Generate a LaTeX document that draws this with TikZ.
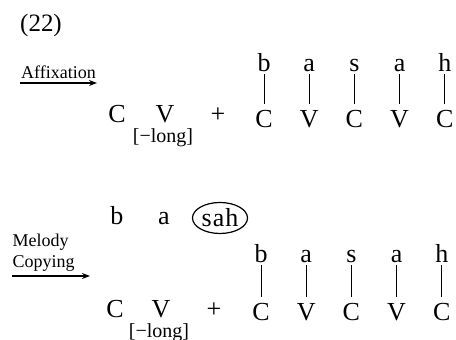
\documentclass[tikz,border=0pt]{standalone}
\usepackage{fontspec}
\setmainfont{Liberation Serif}
\usetikzlibrary{positioning,arrows.meta,shapes.geometric}

\begin{document}
\begin{tikzpicture}[x=0.5pt, y=-0.5pt, >={Stealth[length=4pt, width=3pt]}, on grid, node distance=22.6pt, every edge/.append style={line width=0.5pt, shorten >=2pt}, seg/.style = {font=\fontsize{13}{15}\selectfont, inner sep=1pt, text height=9pt, text depth=0pt}, feat/.style = {font=\fontsize{10}{12}\selectfont, inner sep=0pt}, rulelbl/.style = {font=\fontsize{9}{10.5}\selectfont, align=left}, rulearrow/.style = {->, line width=0.7pt}]

\useasboundingbox (0,0) rectangle (456,340);

\node[font=\fontsize{12.5}{14}\selectfont] (num) at (41,25) {(22)};

% first step: affixation
\coordinate (aff1) at (20,83);
\coordinate (aff2) at (97,83);
\draw[rulearrow] (aff1) -- node[rulelbl, above, inner sep=2pt] {Affixation} (aff2);

\node[seg] (c1) at (117,114) {C};
\node[seg] (v1) [right=24pt of c1] {V};
\node[feat] (l1) [below=12pt of v1, xshift=-1pt] {[−long]};
\node[seg] (p1) [right=26.5pt of v1] {+};

\node[seg] (s1c1) at (264,119) {C};
\node[seg] (s1v1) [right=of s1c1] {V};
\node[seg] (s1c2) [right=of s1v1] {C};
\node[seg] (s1v2) [right=of s1c2] {V};
\node[seg] (s1c3) [right=of s1v2] {C};

\node[seg] (m1b) [above=28pt of s1c1] {b};
\node[seg] (m1a) [above=28pt of s1v1] {a};
\node[seg] (m1s) [above=28pt of s1c2] {s};
\node[seg] (m1a2) [above=28pt of s1v2] {a};
\node[seg] (m1h) [above=28pt of s1c3] {h};

\path 
    (m1b) edge (s1c1)
    (m1a) edge (s1v1)
    (m1s) edge (s1c2)
    (m1a2) edge (s1v2)
    (m1h) edge (s1c3);

% second step: melody copying
\coordinate (cop1) at (12,276);
\coordinate (cop2) at (90,276);
\draw[rulearrow] (cop1) -- (cop2) node[rulelbl, pos=0, anchor=south west, inner xsep=0pt, inner ysep=2pt] {Melody\\Copying};

\node[seg] (m2b) at (117,216) {b};
\node[seg] (m2a) [right=23.5pt of m2b] {a};
\node[draw, ellipse, line width=0.6pt, inner sep=0pt, minimum width=27.5pt, minimum height=15.5pt, font=\fontsize{13}{15}\selectfont] (sah) [right=28pt of m2a, yshift=-1pt] {s\kern0.5pt a\kern0.5pt h};

\node[seg] (c2) at (115,309) {C};
\node[seg] (v2) [right=23pt of c2] {V};
\node[feat] (l2) [below=12pt of v2, xshift=-1pt] {[−long]};
\node[seg] (p2) [right=26.5pt of v2] {+};

\node[seg] (s2c1) at (261,312) {C};
\node[seg] (s2v1) [right=of s2c1] {V};
\node[seg] (s2c2) [right=of s2v1] {C};
\node[seg] (s2v2) [right=of s2c2] {V};
\node[seg] (s2c3) [right=of s2v2] {C};

\node[seg] (m2b2) [above=29pt of s2c1] {b};
\node[seg] (m2a2) [above=29pt of s2v1] {a};
\node[seg] (m2s) [above=29pt of s2c2] {s};
\node[seg] (m2a3) [above=29pt of s2v2] {a};
\node[seg] (m2h) [above=29pt of s2c3] {h};

\path 
    (m2b2) edge (s2c1)
    (m2a2) edge (s2v1)
    (m2s) edge (s2c2)
    (m2a3) edge (s2v2)
    (m2h) edge (s2c3);
\end{tikzpicture}
\end{document}
